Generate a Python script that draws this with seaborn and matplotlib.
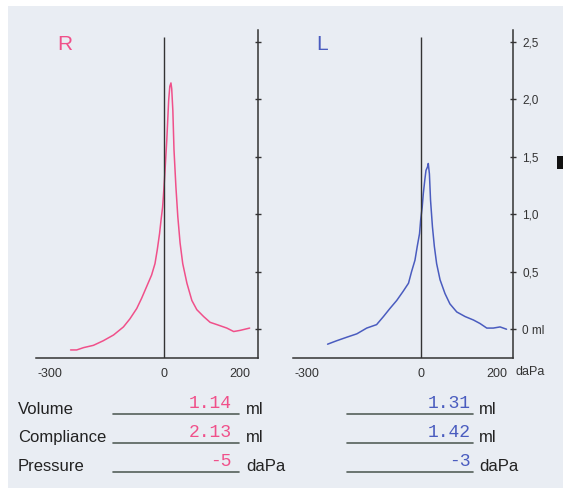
import numpy as np
import pandas as pd
import seaborn as sns
import matplotlib.pyplot as plt
from matplotlib.patches import Rectangle

# Tympanogram data (pressure in daPa, volume in ml)
right_pressure = [-246, -230, -212, -186, -160, -133, -107, -90, -72, -59, -46, -33, -24,
                  -18, -12, -8, -4, -2, 1, 4, 7, 10, 12, 15, 18, 20, 23, 26, 31, 36, 42,
                  49, 60, 73, 86, 104, 121, 139, 165, 183, 200, 225]
right_volume = [-0.18, -0.18, -0.16, -0.14, -0.10, -0.05, 0.02, 0.09, 0.18, 0.27, 0.37,
                0.47, 0.57, 0.69, 0.83, 0.95, 1.06, 1.15, 1.30, 1.47, 1.64, 1.85, 1.99,
                2.11, 2.14, 2.09, 1.90, 1.56, 1.24, 0.98, 0.75, 0.57, 0.40, 0.25, 0.17,
                0.11, 0.06, 0.04, 0.01, -0.02, -0.01, 0.01]

left_pressure = [-246, -222, -196, -169, -143, -117, -99, -82, -64, -47, -33, -25, -16,
                 -10, -4, -1, 3, 6, 10, 13, 17, 19, 22, 25, 30, 35, 41, 50, 63, 76, 94,
                 116, 138, 155, 173, 190, 208, 225]
left_volume = [-0.13, -0.10, -0.07, -0.04, 0.01, 0.04, 0.11, 0.18, 0.25, 0.33, 0.40,
               0.50, 0.60, 0.72, 0.83, 0.95, 1.06, 1.18, 1.30, 1.38, 1.41, 1.44, 1.35,
               1.12, 0.89, 0.72, 0.57, 0.43, 0.31, 0.22, 0.15, 0.11, 0.08, 0.05, 0.01,
               0.01, 0.02, 0.0]

x_ticks = [-300, -200, -100, 0, 100, 200]
x_tick_labels = ['-300', '', '', '0', '', '200']
y_ticks = [0, 0.5, 1.0, 1.5, 2.0, 2.5]
y_tick_labels = ['0 ml', '0,5', '1,0', '1,5', '2,0', '2,5']

row_names = ['Volume', 'Compliance', 'Pressure']
row_units = ['ml', 'ml', 'daPa']
right_values = ['1.14', '2.13', '-5']
left_values = ['1.31', '1.42', '-3']

pink = '#f0508a'
blue = '#4a5cbf'
ink = '#333333'
paper = '#e9edf3'

sns.set_style('white')
plt.rcParams['font.family'] = ['Liberation Sans', 'DejaVu Sans']

W, H = 563, 490
fig = plt.figure(figsize=(W / 100, H / 100), dpi=100)
fig.patch.set_facecolor('white')

# pixel canvas for the paper and the table below the charts
canvas = fig.add_axes([0, 0, 1, 1], zorder=0)
canvas.set_xlim(0, W)
canvas.set_ylim(H, 0)
canvas.axis('off')
canvas.add_patch(Rectangle((8, 6), W - 8, 482, color=paper, lw=0))
canvas.add_patch(Rectangle((556.5, 156), 7, 13, color='#111111', lw=0))


def px_axes(x0, x1, y0, y1):
    return fig.add_axes([x0 / W, 1 - y1 / H, (x1 - x0) / W, (y1 - y0) / H], zorder=1)


def draw_panel(ax, x, y, color, label, xmax, show_y):
    df = pd.DataFrame({'p': x, 'v': y})
    sns.lineplot(data=df, x='p', y='v', ax=ax, color=color, lw=1.1, sort=False,
                 estimator=None)
    ax.set_facecolor('none')
    ax.set_xlim(-337, xmax)
    ax.set_ylim(-0.25, 2.6)
    for s in ['left', 'top']:
        ax.spines[s].set_visible(False)
    for s in ['bottom', 'right']:
        ax.spines[s].set_color(ink)
        ax.spines[s].set_linewidth(1.1)
    ax.vlines(0, -0.25, 2.54, color=ink, lw=1.0)
    ax.set_xticks(x_ticks)
    ax.set_xticklabels(x_tick_labels)
    ax.yaxis.tick_right()
    ax.set_yticks(y_ticks)
    if show_y:
        ax.set_yticklabels(y_tick_labels)
    else:
        ax.set_yticklabels([])
    ax.tick_params(axis='both', direction='inout', length=5, width=1.0, color=ink,
                   labelcolor=ink)
    ax.tick_params(axis='x', labelsize=9, pad=5)
    ax.tick_params(axis='y', labelsize=8.5, pad=4)
    ax.set_xlabel('')
    ax.set_ylabel('')
    ax.text(-260, 2.47, label, color=color, fontsize=15, ha='center', va='center',
            fontweight='light')


ax_r = px_axes(36, 258, 30, 358)
draw_panel(ax_r, right_pressure, right_volume, pink, 'R', 247, False)

ax_l = px_axes(293, 513, 30, 358)
draw_panel(ax_l, left_pressure, left_volume, blue, 'L', 242, True)
canvas.text(515, 372, 'daPa', fontsize=9, color=ink, ha='left', va='center')

# result table
label_y = [409, 437, 466]
line_y = [414, 443, 472]
value_y = [403, 432, 461]
for i in range(3):
    canvas.text(18, label_y[i], row_names[i], fontsize=12, color='#222222',
                ha='left', va='center')
    canvas.plot([113, 239], [line_y[i], line_y[i]], color='#55605a', lw=1.2)
    canvas.plot([347, 473], [line_y[i], line_y[i]], color='#55605a', lw=1.2)
    canvas.text(232, value_y[i], right_values[i], fontsize=13, color=pink,
                family='Liberation Mono', ha='right', va='center')
    canvas.text(471, value_y[i], left_values[i], fontsize=13, color=blue,
                family='Liberation Mono', ha='right', va='center')
    canvas.text(246, label_y[i], row_units[i], fontsize=12, color='#222222',
                ha='left', va='center')
    canvas.text(479, label_y[i], row_units[i], fontsize=12, color='#222222',
                ha='left', va='center')

fig.savefig('out.png', dpi=100, facecolor=fig.get_facecolor())
